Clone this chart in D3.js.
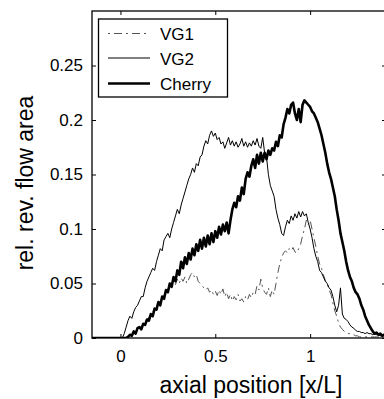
<!DOCTYPE html>
<html>
<head>
<meta charset="utf-8">
<script src="https://cdn.jsdelivr.net/npm/d3@7"></script>
<style>
  body { margin: 0; background: #fff; }
  text { font-family: "Liberation Sans", Arial, Helvetica, sans-serif; fill: #000; }
</style>
</head>
<body>
<div id="chart"></div>
<script>
// axial position x/L
const axialPos = [-0.15,
  0.00, 0.01, 0.02, 0.03, 0.04, 0.05, 0.06, 0.07, 0.08, 0.09,
  0.10, 0.11, 0.12, 0.13, 0.14, 0.15, 0.16, 0.17, 0.18, 0.19,
  0.20, 0.21, 0.22, 0.23, 0.24, 0.25, 0.26, 0.27, 0.28, 0.29,
  0.30, 0.31, 0.32, 0.33, 0.34, 0.35, 0.36, 0.37, 0.38, 0.39,
  0.40, 0.41, 0.42, 0.43, 0.44, 0.45, 0.46, 0.47, 0.48, 0.49,
  0.50, 0.51, 0.52, 0.53, 0.54, 0.55, 0.56, 0.57, 0.58, 0.59,
  0.60, 0.61, 0.62, 0.63, 0.64, 0.65, 0.66, 0.67, 0.68, 0.69,
  0.70, 0.71, 0.72, 0.73, 0.74, 0.75, 0.76, 0.77, 0.78, 0.79,
  0.80, 0.81, 0.82, 0.83, 0.84, 0.85, 0.86, 0.87, 0.88, 0.89,
  0.90, 0.91, 0.92, 0.93, 0.94, 0.95, 0.96, 0.97, 0.98, 0.99,
  1.00, 1.01, 1.02, 1.03, 1.04, 1.05, 1.06, 1.07, 1.08, 1.09,
  1.10, 1.11, 1.12, 1.13, 1.14, 1.15, 1.16, 1.17, 1.18, 1.19,
  1.20, 1.21, 1.22, 1.23, 1.24, 1.25, 1.26, 1.27, 1.28, 1.29,
  1.30, 1.31, 1.32, 1.33, 1.34, 1.35, 1.36, 1.37, 1.38, 1.39, 1.40];

const vg1 = [0,
  0, 0, 0, 0, 0.001, 0.002, 0.003, 0.005, 0.006, 0.008,
  0.010, 0.011, 0.013, 0.015, 0.017, 0.019, 0.021, 0.024, 0.026, 0.029,
  0.031, 0.034, 0.036, 0.040, 0.042, 0.045, 0.048, 0.050, 0.053, 0.049,
  0.054, 0.050, 0.055, 0.052, 0.056, 0.050, 0.054, 0.058, 0.060, 0.056,
  0.058, 0.052, 0.050, 0.048, 0.046, 0.044, 0.046, 0.042, 0.044, 0.040,
  0.043, 0.039, 0.044, 0.040, 0.045, 0.038, 0.042, 0.036, 0.040, 0.034,
  0.038, 0.035, 0.040, 0.034, 0.036, 0.033, 0.038, 0.035, 0.040, 0.037,
  0.042, 0.040, 0.048, 0.044, 0.054, 0.046, 0.042, 0.040, 0.046, 0.038,
  0.044, 0.040, 0.050, 0.060, 0.068, 0.074, 0.078, 0.080, 0.078, 0.082,
  0.080, 0.083, 0.079, 0.078, 0.082, 0.086, 0.094, 0.100, 0.108, 0.104,
  0.108, 0.100, 0.092, 0.084, 0.075, 0.068, 0.064, 0.058, 0.053, 0.050,
  0.044, 0.040, 0.032, 0.025, 0.020, 0.014, 0.010, 0.008, 0.006, 0.005,
  0.004, 0.004, 0.003, 0.003, 0.002, 0.002, 0.001, 0.001, 0.001, 0.001,
  0.001, 0.001, 0.001, 0.001, 0.001, 0.001, 0.001, 0.001, 0.001, 0.001, 0.001];

const vg2 = [0,
  0, 0, 0.004, 0.010, 0.016, 0.020, 0.018, 0.024, 0.028, 0.030,
  0.034, 0.038, 0.038, 0.046, 0.052, 0.056, 0.060, 0.064, 0.062, 0.070,
  0.076, 0.082, 0.080, 0.090, 0.093, 0.096, 0.092, 0.100, 0.106, 0.112,
  0.118, 0.114, 0.122, 0.128, 0.134, 0.140, 0.146, 0.150, 0.156, 0.152,
  0.160, 0.158, 0.166, 0.168, 0.176, 0.181, 0.178, 0.186, 0.190, 0.185,
  0.188, 0.182, 0.184, 0.178, 0.180, 0.174, 0.179, 0.184, 0.177, 0.181,
  0.176, 0.180, 0.175, 0.178, 0.183, 0.176, 0.180, 0.175, 0.179, 0.176,
  0.181, 0.177, 0.183, 0.176, 0.174, 0.184, 0.170, 0.166, 0.150, 0.140,
  0.135, 0.130, 0.118, 0.110, 0.104, 0.096, 0.094, 0.102, 0.108, 0.105,
  0.112, 0.108, 0.114, 0.110, 0.116, 0.111, 0.116, 0.112, 0.114, 0.106,
  0.100, 0.092, 0.082, 0.075, 0.070, 0.062, 0.060, 0.056, 0.052, 0.050,
  0.046, 0.044, 0.038, 0.030, 0.024, 0.030, 0.046, 0.022, 0.018, 0.017,
  0.015, 0.012, 0.010, 0.009, 0.007, 0.006, 0.006, 0.005, 0.005, 0.004,
  0.005, 0.004, 0.004, 0.003, 0.004, 0.003, 0.003, 0.002, 0.003, 0.002, 0.002];

const cherry = [0,
  0, 0, 0, 0, 0.001, 0.003, 0.002, 0.006, 0.004, 0.009,
  0.010, 0.008, 0.013, 0.012, 0.017, 0.016, 0.022, 0.020, 0.027, 0.026,
  0.033, 0.030, 0.038, 0.036, 0.044, 0.042, 0.050, 0.047, 0.056, 0.052,
  0.062, 0.058, 0.070, 0.064, 0.074, 0.068, 0.078, 0.072, 0.082, 0.076,
  0.086, 0.080, 0.090, 0.082, 0.092, 0.084, 0.094, 0.086, 0.096, 0.088,
  0.098, 0.092, 0.102, 0.095, 0.104, 0.098, 0.106, 0.096, 0.108, 0.118,
  0.124, 0.120, 0.130, 0.126, 0.138, 0.132, 0.146, 0.152, 0.148, 0.158,
  0.164, 0.156, 0.168, 0.160, 0.170, 0.162, 0.170, 0.164, 0.172, 0.168,
  0.174, 0.172, 0.180, 0.176, 0.186, 0.184, 0.196, 0.202, 0.210, 0.206,
  0.214, 0.216, 0.206, 0.200, 0.210, 0.198, 0.214, 0.218, 0.216, 0.214,
  0.212, 0.208, 0.206, 0.202, 0.198, 0.192, 0.186, 0.178, 0.170, 0.160,
  0.152, 0.146, 0.138, 0.130, 0.118, 0.108, 0.096, 0.088, 0.080, 0.070,
  0.062, 0.056, 0.052, 0.046, 0.042, 0.040, 0.036, 0.030, 0.026, 0.020,
  0.016, 0.012, 0.009, 0.006, 0.004, 0.005, 0.003, 0.004, 0.002, 0.003, 0.002];

const xTicks = [0, 0.5, 1];
const yTicks = [0, 0.05, 0.1, 0.15, 0.2, 0.25];
const seriesNames = ["VG1", "VG2", "Cherry"];

const W = 384, H = 399;
const plot = {left: 92, right: 386, top: 11, bottom: 338};

const svg = d3.select("#chart")
  .append("svg")
  .attr("width", W)
  .attr("height", H);

const x = d3.scaleLinear()
  .domain([-0.15, 1.4])
  .range([plot.left, plot.right]);

const y = d3.scaleLinear()
  .domain([0, 0.3])
  .range([plot.bottom, plot.top]);

// clip so lines stay in the box
svg.append("clipPath").attr("id", "clip")
  .append("rect")
  .attr("x", plot.left).attr("y", plot.top)
  .attr("width", plot.right - plot.left)
  .attr("height", plot.bottom - plot.top);

const styles = [
  {data: vg1, color: "#555", width: 1, dash: "2,4,8,4"},
  {data: vg2, color: "#000", width: 1, dash: null},
  {data: cherry, color: "#000", width: 2.6, dash: null}
];

const line = d3.line()
  .x((d, i) => x(axialPos[i]))
  .y(d => y(d));

styles.forEach(s => {
  svg.append("path")
    .datum(s.data)
    .attr("clip-path", "url(#clip)")
    .attr("fill", "none")
    .attr("stroke", s.color)
    .attr("stroke-width", s.width)
    .attr("stroke-linejoin", "round")
    .attr("stroke-dasharray", s.dash)
    .attr("d", line);
});

// axes, ticks inward on all four sides
const fmt = d => d3.format("")(d);

const xAxis = svg.append("g")
  .attr("transform", `translate(0,${plot.bottom})`)
  .call(d3.axisBottom(x).tickValues(xTicks).tickSizeInner(-4).tickSizeOuter(0).tickPadding(12).tickFormat(fmt));

svg.append("g")
  .attr("transform", `translate(0,${plot.top})`)
  .call(d3.axisTop(x).tickValues(xTicks).tickSizeInner(-4).tickSizeOuter(0).tickFormat(""));

const yAxis = svg.append("g")
  .attr("transform", `translate(${plot.left},0)`)
  .call(d3.axisLeft(y).tickValues(yTicks).tickSizeInner(-4).tickSizeOuter(0).tickPadding(9).tickFormat(fmt));

svg.append("g")
  .attr("transform", `translate(${plot.right},0)`)
  .call(d3.axisRight(y).tickValues(yTicks).tickSizeInner(-4).tickSizeOuter(0).tickFormat(""));

svg.selectAll(".domain").remove();
svg.selectAll(".tick line").attr("stroke", "#000");
svg.selectAll(".tick text").style("font-size", "17px").attr("fill", "#000");

svg.append("rect")
  .attr("x", plot.left).attr("y", plot.top)
  .attr("width", plot.right - plot.left)
  .attr("height", plot.bottom - plot.top)
  .attr("fill", "none")
  .attr("stroke", "#000")
  .attr("stroke-width", 1.3);

// axis labels
svg.append("text")
  .attr("x", 251)
  .attr("y", 393)
  .attr("text-anchor", "middle")
  .style("font-size", "23px")
  .text("axial position [x/L]");

svg.append("text")
  .attr("transform", `translate(33,183) rotate(-90)`)
  .attr("text-anchor", "middle")
  .style("font-size", "23px")
  .text("rel. rev. flow area");

// legend
const legend = svg.append("g");
legend.append("rect")
  .attr("x", 98.5).attr("y", 19)
  .attr("width", 129).attr("height", 78)
  .attr("fill", "#fff")
  .attr("stroke", "#000")
  .attr("stroke-width", 1.3);

const rowY = [33.5, 58, 83.5];
seriesNames.forEach((name, i) => {
  legend.append("line")
    .attr("x1", 108).attr("x2", 150)
    .attr("y1", rowY[i]).attr("y2", rowY[i])
    .attr("stroke", styles[i].color)
    .attr("stroke-width", styles[i].width)
    .attr("stroke-dasharray", styles[i].dash);
  legend.append("text")
    .attr("x", 160)
    .attr("y", rowY[i] + 6.5)
    .style("font-size", "17px")
    .text(name);
});
</script>
</body>
</html>
